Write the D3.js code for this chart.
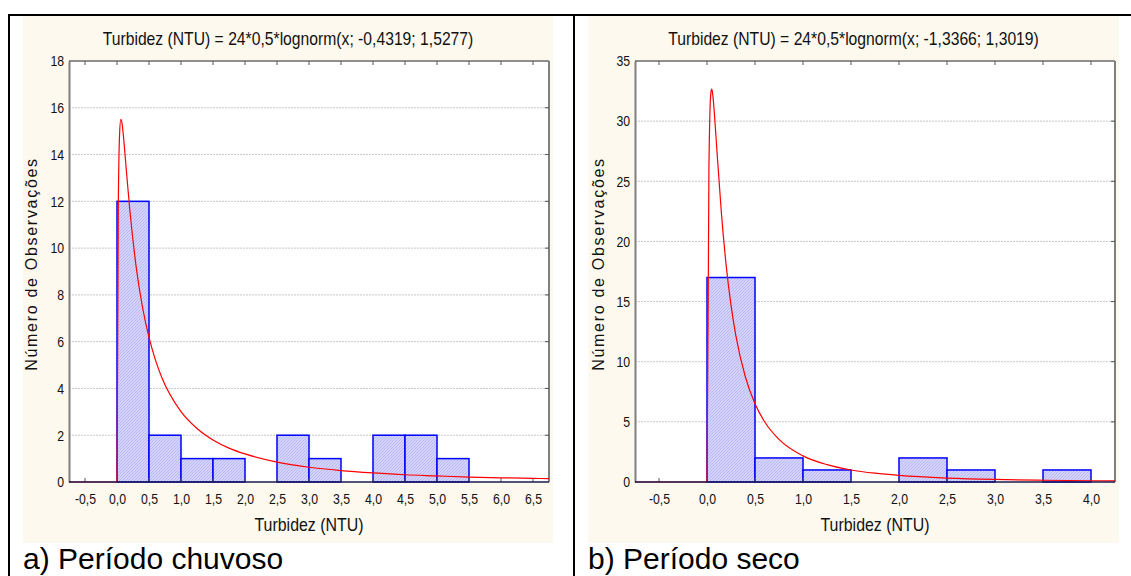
<!DOCTYPE html>
<html>
<head>
<meta charset="utf-8">
<script src="https://cdn.jsdelivr.net/npm/d3@7"></script>
<style>
  body { margin: 0; background: #fff; }
  svg { display: block; }
  .tick text { font-family: "Liberation Sans", Arial, sans-serif; font-size: 15px; fill: #111; }
</style>
</head>
<body>
<svg id="chart" width="1131" height="576"></svg>
<script>
// Dados (histogramas de turbidez, classes de 0,5 NTU)
const binStarts = [0, 0.5, 1.0, 1.5, 2.0, 2.5, 3.0, 3.5, 4.0, 4.5, 5.0];
const binWidth = 0.5;

const chuvosoCounts = [12, 2, 1, 1, 0, 2, 1, 0, 2, 2, 1];
const secoCounts = [17, 2, 1, 0, 2, 1, 0, 1];

// curva ajustada (lognormal) lida ponto a ponto: [x, y]
const chuvosoCurve = [
  [-0.75, 0], [0, 0], [0.02, 11.7], [0.04, 14.84], [0.06, 15.5], [0.08, 15.31], [0.1, 14.8],
  [0.15, 13.19], [0.2, 11.64], [0.3, 9.19], [0.4, 7.45], [0.5, 6.18], [0.6, 5.22], [0.7, 4.47],
  [1.0, 3.01], [1.25, 2.29], [1.5, 1.8], [1.75, 1.45], [2.0, 1.2], [2.5, 0.85], [3.0, 0.63],
  [3.5, 0.49], [4.0, 0.39], [4.5, 0.31], [5.0, 0.26], [5.5, 0.21], [6.0, 0.18], [6.5, 0.155], [6.75, 0.144]
];
const secoCurve = [
  [-0.75, 0], [0, 0], [0.02, 25.98], [0.03, 30.56], [0.04, 32.33], [0.05, 32.66], [0.06, 32.21],
  [0.08, 30.29], [0.1, 27.93], [0.15, 22.35], [0.2, 17.99], [0.25, 14.7], [0.3, 12.19], [0.4, 8.73],
  [0.5, 6.51], [0.6, 5.01], [0.75, 3.54], [1.0, 2.17], [1.25, 1.44], [1.5, 1.0], [1.75, 0.73],
  [2.0, 0.55], [2.5, 0.33], [3.0, 0.21], [3.5, 0.145], [4.0, 0.103], [4.25, 0.088]
];

const chuvosoXTicks = [-0.5, 0, 0.5, 1, 1.5, 2, 2.5, 3, 3.5, 4, 4.5, 5, 5.5, 6, 6.5];
const chuvosoYTicks = [0, 2, 4, 6, 8, 10, 12, 14, 16, 18];
const secoXTicks = [-0.5, 0, 0.5, 1, 1.5, 2, 2.5, 3, 3.5, 4];
const secoYTicks = [0, 5, 10, 15, 20, 25, 30, 35];

const svg = d3.select('#chart');
const defs = svg.append('defs');

// padrão hachurado das barras
const pat = defs.append('pattern')
  .attr('id', 'hatch')
  .attr('patternUnits', 'userSpaceOnUse')
  .attr('width', 3).attr('height', 3);
pat.append('rect').attr('width', 3).attr('height', 3).attr('fill', '#d3d3fc');
pat.append('path')
  .attr('d', 'M0,3 L3,0 M-1,1 L1,-1 M2,4 L4,2')
  .attr('stroke', '#b2b2f0').attr('stroke-width', 0.8);

// vírgula decimal e hífen simples, como no original
const fmtX = d => d3.format('.1f')(d).replace('.', ',').replace('\u2212', '-');
const narrow = 0.82; // fonte estreita simulada

function drawPanel(p) {
  const g = svg.append('g');

  // fundo bege do painel
  g.append('rect')
    .attr('x', p.bgLeft).attr('y', 16)
    .attr('width', p.bgRight - p.bgLeft).attr('height', 527)
    .attr('fill', '#fef9ee');

  const x = d3.scaleLinear().domain(p.xDomain).range([p.left, p.right]);
  const y = d3.scaleLinear().domain([0, p.yMax]).range([p.bottom, p.top]);

  g.append('rect')
    .attr('x', p.left).attr('y', p.top)
    .attr('width', p.right - p.left).attr('height', p.bottom - p.top)
    .attr('fill', '#fff');

  // linhas de grade
  g.selectAll('.grid')
    .data(p.yTicks.filter(t => t > 0 && t < p.yMax))
    .enter().append('line')
    .attr('x1', p.left).attr('x2', p.right)
    .attr('y1', d => y(d)).attr('y2', d => y(d))
    .attr('stroke', '#c8c8c8')
    .attr('stroke-dasharray', '2,1');

  // barras
  const bars = p.counts.map((c, i) => ({ x0: binStarts[i], c: c })).filter(d => d.c > 0);
  g.selectAll('.bar')
    .data(bars)
    .enter().append('rect')
    .attr('x', d => x(d.x0))
    .attr('y', d => y(d.c))
    .attr('width', d => x(d.x0 + binWidth) - x(d.x0))
    .attr('height', d => y(0) - y(d.c))
    .attr('fill', 'url(#hatch)')
    .attr('stroke', '#0000ff')
    .attr('stroke-width', 1.5);

  // eixos
  const yAxis = g.append('g')
    .attr('transform', `translate(${p.left},0)`)
    .call(d3.axisLeft(y).tickValues(p.yTicks).tickSize(0).tickPadding(6));
  yAxis.select('.domain').attr('stroke', '#7f7f7f').attr('stroke-width', 2);
  yAxis.selectAll('.tick text').attr('transform', `scale(${narrow},1)`).attr('font-size', 14);

  const xAxis = g.append('g')
    .attr('transform', `translate(0,${p.bottom})`)
    .call(d3.axisBottom(x).tickValues(p.xTicks).tickSize(0).tickPadding(11).tickFormat(fmtX));
  xAxis.select('.domain').remove();
  xAxis.selectAll('.tick text').attr('transform', `scale(${narrow},1)`);

  // moldura: topo escuro, direita cinza
  g.append('line')
    .attr('x1', p.left).attr('x2', p.right).attr('y1', p.top).attr('y2', p.top)
    .attr('stroke', '#222').attr('stroke-width', 1);
  g.append('line')
    .attr('x1', p.right).attr('x2', p.right).attr('y1', p.top).attr('y2', p.bottom)
    .attr('stroke', '#7f7f7f').attr('stroke-width', 2);

  // marcas internas
  p.xTicks.forEach(t => {
    g.append('line').attr('x1', x(t)).attr('x2', x(t)).attr('y1', p.top).attr('y2', p.top + 4)
      .attr('stroke', '#555');
    g.append('line').attr('x1', x(t)).attr('x2', x(t)).attr('y1', p.bottom).attr('y2', p.bottom - 4)
      .attr('stroke', '#555');
  });
  p.yTicks.filter(t => t > 0 && t < p.yMax).forEach(t => {
    g.append('line').attr('x1', p.right).attr('x2', p.right - 4).attr('y1', y(t)).attr('y2', y(t))
      .attr('stroke', '#555');
  });

  // curva ajustada
  const line = d3.line()
    .x(d => x(d[0]))
    .y(d => y(d[1]))
    .curve(d3.curveMonotoneX);
  g.append('path')
    .datum(p.curve)
    .attr('fill', 'none')
    .attr('stroke', '#ff0000')
    .attr('stroke-width', 1.2)
    .attr('d', line);

  // eixo inferior escuro por cima
  g.append('line')
    .attr('x1', p.left).attr('x2', p.right).attr('y1', p.bottom).attr('y2', p.bottom)
    .attr('stroke', '#1c1c50').attr('stroke-width', 2).attr('opacity', 0.75);

  // textos
  g.append('text')
    .attr('transform', `translate(${(p.bgLeft + p.bgRight) / 2},45) scale(0.873,1)`)
    .attr('text-anchor', 'middle')
    .attr('font-family', '"Liberation Sans", Arial, sans-serif')
    .attr('font-size', 18).attr('fill', '#111')
    .text(p.title);

  g.append('text')
    .attr('transform', `translate(${(p.left + p.right) / 2},531) scale(0.885,1)`)
    .attr('text-anchor', 'middle')
    .attr('font-family', '"Liberation Sans", Arial, sans-serif')
    .attr('font-size', 18).attr('fill', '#111')
    .text('Turbidez (NTU)');

  g.append('text')
    .attr('transform', `translate(${p.yTitleX},264) rotate(-90)`)
    .attr('text-anchor', 'middle')
    .attr('font-family', '"Liberation Sans", Arial, sans-serif')
    .attr('font-size', 16).attr('letter-spacing', 1.7).attr('fill', '#111')
    .text('Número de Observações');

  g.append('text')
    .attr('x', p.bgLeft).attr('y', 569)
    .attr('font-family', '"Liberation Sans", Arial, sans-serif')
    .attr('font-size', 30).attr('fill', '#000')
    .text(p.caption);
}

drawPanel({
  bgLeft: 23, bgRight: 553,
  left: 69, right: 549, top: 61, bottom: 482,
  xDomain: [-0.75, 6.75], yMax: 18,
  xTicks: chuvosoXTicks, yTicks: chuvosoYTicks,
  counts: chuvosoCounts, curve: chuvosoCurve,
  title: 'Turbidez (NTU) = 24*0,5*lognorm(x; -0,4319; 1,5277)',
  caption: 'a) Período chuvoso',
  yTitleX: 37
});

drawPanel({
  bgLeft: 588, bgRight: 1119,
  left: 635, right: 1115, top: 61, bottom: 482,
  xDomain: [-0.75, 4.25], yMax: 35,
  xTicks: secoXTicks, yTicks: secoYTicks,
  counts: secoCounts, curve: secoCurve,
  title: 'Turbidez (NTU) = 24*0,5*lognorm(x; -1,3366; 1,3019)',
  caption: 'b) Período seco',
  yTitleX: 604
});

// moldura externa da figura
svg.append('line').attr('x1', 8).attr('x2', 1131).attr('y1', 15).attr('y2', 15)
  .attr('stroke', '#000').attr('stroke-width', 2);
svg.append('line').attr('x1', 9).attr('x2', 9).attr('y1', 14).attr('y2', 576)
  .attr('stroke', '#000').attr('stroke-width', 2);
svg.append('line').attr('x1', 574).attr('x2', 574).attr('y1', 14).attr('y2', 576)
  .attr('stroke', '#000').attr('stroke-width', 2);
</script>
</body>
</html>
